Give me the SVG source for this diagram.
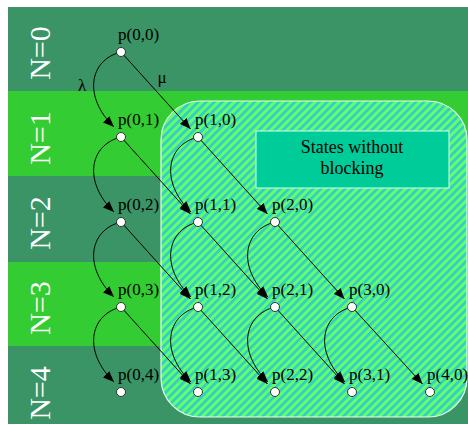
<svg xmlns="http://www.w3.org/2000/svg" width="468" height="425" viewBox="0 0 468 425">
<style>
.band-d{fill:#3a9466}
.band-l{fill:#33cc33}
.nl{font-family:"Liberation Serif","Times New Roman",serif;font-size:30px;fill:#ffffff;text-anchor:middle}
.pl{font-family:"Liberation Serif","Times New Roman",serif;font-size:17px;fill:#000000}
.st{font-family:"Liberation Serif","Times New Roman",serif;font-size:18px;fill:#000000;text-anchor:middle}
.gl{font-family:"Liberation Serif","Times New Roman",serif;font-size:17px;fill:#000000;text-anchor:middle}
.nd{fill:#ffffff;stroke:#333333;stroke-width:1}
.e{fill:none;stroke:#000000;stroke-width:1;marker-end:url(#ah)}
</style>
<defs>
<marker id="ah" markerUnits="userSpaceOnUse" markerWidth="11" markerHeight="9" refX="11" refY="4.5" orient="auto">
<path d="M0,0 L11,4.5 L0,9 z" fill="#000000"/>
</marker>
<pattern id="hatch" patternUnits="userSpaceOnUse" width="5.7" height="10" patternTransform="rotate(45)">
<rect x="0" y="0" width="5.7" height="10" fill="#66ff66"/>
<rect x="0" y="0" width="2.7" height="10" fill="#33cccc"/>
</pattern>
</defs>
<g id="background">
<rect class="band-d" x="8" y="7" width="460" height="84"/>
<rect class="band-l" x="8" y="91" width="460" height="85"/>
<rect class="band-d" x="8" y="176" width="460" height="86"/>
<rect class="band-l" x="8" y="262" width="460" height="84"/>
<rect class="band-d" x="8" y="346" width="460" height="78"/>
<text class="nl" transform="translate(50,53) rotate(-90)">N=0</text>
<text class="nl" transform="translate(50,138) rotate(-90)">N=1</text>
<text class="nl" transform="translate(50,223) rotate(-90)">N=2</text>
<text class="nl" transform="translate(50,308) rotate(-90)">N=3</text>
<text class="nl" transform="translate(50,393) rotate(-90)">N=4</text>
</g>
<g id="region">
<rect x="161" y="101" width="306" height="316" rx="39" ry="39" fill="url(#hatch)" stroke="#e8fff0" stroke-width="1.2"/>
</g>
<g id="label-box">
<rect x="256" y="131" width="193" height="57" fill="#00cc99" stroke="#d8fff0" stroke-width="1"/>
<text class="st" x="352" y="153">States without</text>
<text class="st" x="352" y="174">blocking</text>
</g>
<g id="connectors">
<path class="e" d="M121,52 C89,60 83,97 114,127"/>
<path class="e" d="M121,52 L190.5,129"/>
<path class="e" d="M121,137 C89,145 83,182 114,212"/>
<path class="e" d="M121,137 L190.5,214"/>
<path class="e" d="M198,137 C166,145 160,182 191,212"/>
<path class="e" d="M198,137 L267.5,214"/>
<path class="e" d="M121,222 C89,230 83,267 114,297"/>
<path class="e" d="M121,222 L190.5,299"/>
<path class="e" d="M198,222 C166,230 160,267 191,297"/>
<path class="e" d="M198,222 L267.5,299"/>
<path class="e" d="M275,222 C243,230 237,267 268,297"/>
<path class="e" d="M275,222 L344.5,299"/>
<path class="e" d="M121,307 C89,315 83,352 114,382"/>
<path class="e" d="M121,307 L190.5,384"/>
<path class="e" d="M198,307 C166,315 160,352 191,382"/>
<path class="e" d="M198,307 L267.5,384"/>
<path class="e" d="M275,307 C243,315 237,352 268,382"/>
<path class="e" d="M275,307 L344.5,384"/>
<path class="e" d="M352,307 C320,315 314,352 345,382"/>
<path class="e" d="M352,307 L422.5,384"/>
<text class="gl" x="82" y="91">λ</text>
<text class="gl" x="162" y="83">μ</text>
</g>
<g id="p00"><circle class="nd" cx="121" cy="52" r="4.5"/><text class="pl" x="118" y="40">p(0,0)</text></g>
<g id="p01"><circle class="nd" cx="121" cy="137" r="4.5"/><text class="pl" x="118" y="125">p(0,1)</text></g>
<g id="p10"><circle class="nd" cx="198" cy="137" r="4.5"/><text class="pl" x="195" y="125">p(1,0)</text></g>
<g id="p02"><circle class="nd" cx="121" cy="222" r="4.5"/><text class="pl" x="118" y="210">p(0,2)</text></g>
<g id="p11"><circle class="nd" cx="198" cy="222" r="4.5"/><text class="pl" x="195" y="210">p(1,1)</text></g>
<g id="p20"><circle class="nd" cx="275" cy="222" r="4.5"/><text class="pl" x="272" y="210">p(2,0)</text></g>
<g id="p03"><circle class="nd" cx="121" cy="307" r="4.5"/><text class="pl" x="118" y="295">p(0,3)</text></g>
<g id="p12"><circle class="nd" cx="198" cy="307" r="4.5"/><text class="pl" x="195" y="295">p(1,2)</text></g>
<g id="p21"><circle class="nd" cx="275" cy="307" r="4.5"/><text class="pl" x="272" y="295">p(2,1)</text></g>
<g id="p30"><circle class="nd" cx="352" cy="307" r="4.5"/><text class="pl" x="349" y="295">p(3,0)</text></g>
<g id="p04"><circle class="nd" cx="121" cy="392" r="4.5"/><text class="pl" x="118" y="380">p(0,4)</text></g>
<g id="p13"><circle class="nd" cx="198" cy="392" r="4.5"/><text class="pl" x="195" y="380">p(1,3)</text></g>
<g id="p22"><circle class="nd" cx="275" cy="392" r="4.5"/><text class="pl" x="272" y="380">p(2,2)</text></g>
<g id="p31"><circle class="nd" cx="352" cy="392" r="4.5"/><text class="pl" x="349" y="380">p(3,1)</text></g>
<g id="p40"><circle class="nd" cx="430" cy="392" r="4.5"/><text class="pl" x="427" y="380">p(4,0)</text></g>
</svg>
